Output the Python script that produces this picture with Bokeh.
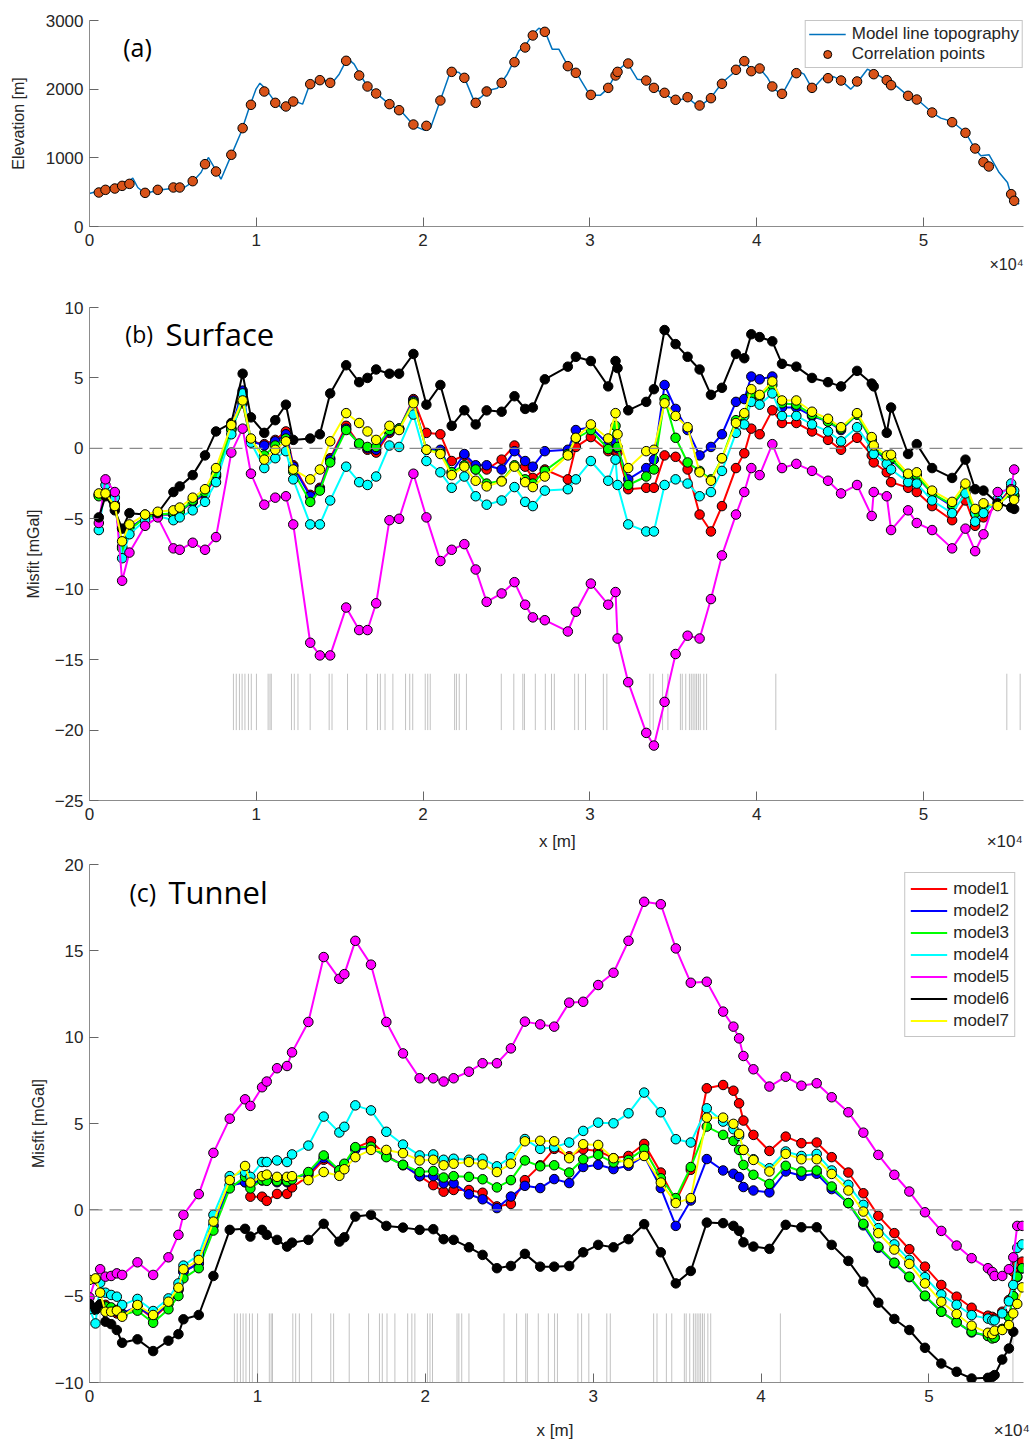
import numpy as np
from bokeh.plotting import figure
from bokeh.layouts import column
from bokeh.models import FixedTicker, Label, Legend, LegendItem, Span, Range1d, Title
from bokeh.embed import file_html
from bokeh.resources import INLINE

nan = float("nan")

# ---------------- panel (a): topography ----------------
TOPO_X = [0, 700, 2395, 2595, 2894, 3333, 4092, 5030, 5689, 6188, 6687, 7126, 7485, 7884, 8483, 9082, 9581,
          9980, 10220, 10579, 11078, 11577, 11876, 12275, 12774, 13174, 13872, 14571, 14970, 15469, 15868,
          16267, 16667, 17265, 17964, 18663, 19461, 20060, 20459, 21058, 21657, 22156, 22515, 23054, 23453,
          23952, 24451, 25050, 25749, 26120, 26580, 26940, 27300, 27740, 28140, 28680, 29240, 30000, 30640,
          31100, 31640, 32240, 32840, 33340, 33840, 34640, 35240, 35840, 36540, 37240, 37940, 38640, 39240,
          39640, 40140, 40640, 41040, 41540, 42140, 42440, 42840, 43340, 43940, 44640, 45040, 45640, 46040,
          46640, 47040, 47840, 48440, 49080, 49840, 50520, 51040, 51720, 52520, 53100, 53440, 53940, 54540,
          55040, 55240, 55440, 55740]
TOPO_Z = [480, 529, 665, 704, 568, 480, 529, 558, 568, 650, 786, 1005, 859, 689, 1029, 1369, 1733,
          2000, 2087, 2000, 1830, 1709, 1733, 1830, 1782, 2049, 2146, 2097, 2218, 2451, 2364,
          2194, 2039, 1927, 1782, 1684, 1466, 1403, 1442, 1854, 2267, 2243, 2146, 1830, 1879,
          1985, 2014, 2218, 2558, 2631, 2801, 2888, 2849, 2583, 2583, 2340, 2218, 1913, 1913,
          2015, 2267, 2388, 2146, 2131, 2015, 1903, 1830, 1879, 1743, 1869, 2097, 2243, 2422,
          2291, 2315, 2170, 2000, 1927, 2194, 2267, 2218, 2000, 2160, 2180, 2131, 2000, 2097,
          2291, 2243, 2121, 2034, 1903, 1806, 1660, 1578, 1529, 1369, 1126, 1029, 1044, 786,
          641, 471, 374, 325]

X_CORR = [559, 958, 1517, 1956, 2395, 3333, 4092, 5030, 5409, 6188,
          6926, 7585, 8503, 9182, 9681, 10479, 11138, 11776, 12216, 13234,
          13812, 14431, 15389, 16168, 16667, 17186, 17984, 18563, 19421, 20200,
          21038, 21717, 22475, 23154, 23812, 24711, 25480, 26120, 26580, 27300,
          28680, 29160, 30060, 31100, 31540, 31660, 32300, 33380, 33840, 34480,
          35140, 35860, 36580, 37260, 37920, 38760, 39260, 39680, 40180, 40940,
          41520, 42380, 43320, 44280, 45060, 46020, 47020, 47800, 48060, 49080,
          49600, 50520, 51720, 52520, 53100, 53600, 53920, 55260, 55440]
Z_CORR = [495, 534, 553, 592, 621, 490, 534, 568, 568, 660,
          908, 801, 1044, 1432, 1772, 1966, 1801, 1748, 1820, 2073,
          2131, 2092, 2413, 2199, 2039, 1937, 1782, 1694, 1485, 1466,
          1835, 2252, 2165, 1801, 1966, 2092, 2393, 2607, 2782, 2835,
          2335, 2238, 1917, 2019, 2199, 2252, 2374, 2126, 2019, 1947,
          1845, 1883, 1762, 1869, 2078, 2282, 2408, 2262, 2301, 2039,
          1932, 2233, 2019, 2160, 2126, 2112, 2218, 2131, 2058, 1903,
          1849, 1660, 1519, 1364, 1136, 937, 874, 471, 374]

# ---------------- panel (b): surface misfit ----------------
X_SURF = [559, 958, 1517, 1956, 2395, 3333, 4092, 5030, 5409, 6188,
          6926, 7585, 8503, 9182, 9681, 10479, 11138, 11776, 12216, 13234,
          13812, 14431, 15389, 16168, 16667, 17186, 17984, 18563, 19421, 20200,
          21038, 21717, 22475, 23154, 23812, 24711, 25480, 26120, 26580, 27300,
          28680, 29160, 30060, 31100, 31540, 31660, 32300, 33380, 33840, 34480,
          35140, 35860, 36580, 37260, 37920, 38760, 39260, 39680, 40180, 40940,
          41520, 42380, 43320, 44280, 45060, 46020, 46900, 47020, 47800, 48060,
          49080, 49600, 50520, 51720, 52520, 53100, 53600, 54450, 55260, 55440]

S_MODEL1 = [-3.3, -3.2, -4.0, -7.0, -5.7, -4.9, -4.7, -4.7, -4.5, -3.8,
            -3.3, -2.0, 1.4, 3.2, 0.5, 0.3, 0.6, 1.2, -1.2, -3.3,
            -2.8, -0.7, 1.6, 0.3, -0.1, -0.3, 1.1, 1.4, 3.5, 1.1,
            1.0, -0.9, -0.5, -1.5, -1.5, -0.8, 0.2, -1.3, -2.1, -1.5,
            -2.2, 0.1, 0.8, -0.2, -0.2, -0.3, -2.9, -2.8, -2.8, -0.5,
            -0.6, -1.5, -4.7, -5.9, -4.1, -1.4, -0.35, 1.4, 1.0, 2.7,
            1.8, 1.8, 1.2, 0.6, -0.1, 0.75, -0.5, -1.0, -1.7, -2.4,
            -2.8, -3.1, -4.1, -5.1, -3.7, -5.5, -4.9, -4.0, -2.8, -3.4]
S_MODEL2 = [-3.3, -3.2, -4.0, -7.0, -5.7, -4.9, -4.7, -4.7, -4.5, -3.8,
            -3.2, -1.9, 1.4, 4.1, 0.5, 0.2, 0.5, 1.0, -1.3, -3.4,
            -2.9, -0.8, 1.4, 0.3, 0.0, -0.1, 1.2, 1.4, 3.4, -0.1,
            -0.1, -1.7, -0.4, -1.2, -1.2, -1.5, -0.2, -0.9, -1.3, -0.2,
            -0.1, 1.3, 1.5, 0.3, 0.5, 0.0, -2.2, -1.4, -0.8, 4.5,
            2.8, 1.3, -0.5, 0.1, 1.0, 3.3, 3.5, 5.1, 4.9, 5.1,
            2.9, 2.9, 2.3, 1.9, 1.3, 2.4, 0.5, -0.1, -0.8, -0.8,
            -2.0, -2.0, -3.2, -4.1, -2.8, -4.6, -4.2, -3.9, -3.0, -3.4]
S_MODEL3 = [-3.4, -3.3, -4.1, -7.1, -5.8, -4.9, -4.7, -4.6, -4.5, -3.7,
            -3.1, -1.8, 1.3, 3.3, 0.5, -0.5, 0.2, 0.7, -1.65, -3.8,
            -3.0, -1.0, 1.3, 0.35, 0.1, 0.1, 1.3, 1.4, 3.3, -0.1,
            -0.3, -1.7, -1.2, -1.5, -2.5, -2.3, -1.2, -2.2, -2.5, -1.6,
            -0.4, 0.7, 1.3, -0.05, 1.6, 0.1, -2.6, -2.0, -1.5, 3.5,
            0.75, -1.0, -1.6, -2.2, -0.7, 2.0, 2.3, 3.8, 3.7, 4.5,
            3.2, 3.1, 2.4, 1.9, 1.4, 2.4, 0.6, 0.0, -0.7, -0.7,
            -2.0, -1.9, -3.2, -4.0, -2.8, -4.6, -4.3, -4.0, -3.2, -3.3]
S_MODEL4 = [-5.8, -2.6, -3.5, -7.8, -6.1, -5.1, -4.8, -5.1, -4.9, -4.4,
            -3.8, -2.4, 1.0, 3.9, 0.4, -1.4, -0.7, -0.2, -2.2, -5.4,
            -5.4, -3.7, -1.3, -2.4, -2.6, -2.0, 0.2, 0.1, 2.4, -0.9,
            -1.7, -2.8, -2.0, -3.4, -4.0, -3.7, -2.75, -3.8, -4.1, -3.0,
            -2.9, -2.2, -0.9, -2.3, -0.8, -2.6, -5.4, -5.9, -5.9, -2.6,
            -2.2, -2.5, -3.4, -3.1, -1.6, 1.1, 1.7, 3.3, 3.1, 3.9,
            2.3, 2.3, 1.7, 1.2, 0.5, 1.5, 0.0, -0.4, -1.1, -1.5,
            -2.4, -2.5, -3.7, -4.6, -3.2, -5.2, -4.6, -3.6, -2.5, -3.0]
S_MODEL5 = [-5.3, -2.2, -3.1, -9.4, -7.4, -5.5, -4.9, -7.1, -7.2, -6.7,
            -7.2, -6.3, -0.3, 1.4, -1.8, -4.0, -3.5, -3.4, -5.4, -13.8,
            -14.7, -14.7, -11.3, -12.9, -12.9, -11.0, -5.1, -5.0, -1.8, -4.9,
            -8.0, -7.2, -6.8, -8.6, -10.9, -10.3, -9.5, -11.1, -12.0, -12.2,
            -13.0, -11.6, -9.6, -11.1, -10.2, -13.5, -16.6, -20.2, -21.1, -18.0,
            -14.6, -13.3, -13.5, -10.7, -7.6, -4.7, -3.1, -1.4, -1.9, 0.3,
            -1.4, -1.1, -1.6, -2.3, -3.2, -2.6, -4.8, -3.1, -3.4, -5.8,
            -4.4, -5.3, -5.8, -7.1, -5.7, -7.3, -6.1, -3.1, -2.9, -1.5]
S_MODEL6 = [-4.9, -3.4, -4.4, -5.7, -4.6, -4.7, -4.6, -3.1, -2.7, -1.9,
            -0.5, 1.2, 1.8, 5.3, 2.2, 1.1, 2.0, 3.1, 0.6, 0.7,
            1.0, 3.9, 5.9, 4.7, 5.0, 5.6, 5.3, 5.3, 6.7, 3.1,
            4.5, 1.6, 2.7, 1.7, 2.7, 2.6, 3.7, 2.8, 2.9, 4.9,
            5.8, 6.5, 6.2, 4.4, 6.2, 5.7, 2.7, 3.3, 4.2, 8.4,
            7.4, 6.5, 5.6, 3.8, 4.3, 6.7, 6.4, 8.1, 7.9, 7.6,
            6.0, 5.8, 5.0, 4.7, 4.4, 5.5, 4.6, 4.4, 1.1, 2.9,
            -0.4, 0.3, -1.4, -2.1, -0.8, -2.9, -3.0, -3.9, -4.2, -4.3]
S_MODEL7 = [-3.2, -3.2, -4.1, -6.6, -5.4, -4.7, -4.5, -4.4, -4.2, -3.5,
            -2.9, -1.4, 1.65, 3.4, 0.7, -0.8, -0.1, 0.5, -1.5, -2.2,
            -1.5, 0.5, 2.5, 1.8, 1.2, 0.6, 1.6, 1.3, 3.2, -0.1,
            -0.4, -1.9, -1.3, -2.3, -2.7, -2.35, -1.3, -2.4, -2.75, -2.0,
            -0.5, 0.75, 1.7, 0.7, 2.5, 1.0, -1.4, -0.2, -0.1, 3.2,
            2.3, 1.5, -1.7, -2.3, -0.7, 1.8, 2.5, 4.2, 3.8, 4.75,
            3.4, 3.4, 2.6, 2.1, 1.5, 2.5, 0.8, 0.2, -0.5, -0.45,
            -1.8, -1.7, -3.0, -3.8, -2.5, -4.3, -3.9, -4.1, -3.0, -3.65]

# ---------------- panel (c): tunnel misfit ----------------
X_TUN = [0, 357, 635, 952, 1290, 1627, 1944, 2857, 3790, 4702,
         5298, 5595, 6508, 7381, 8353, 9266, 9583, 10278, 10556, 11171,
         11766, 12063, 13036, 13948, 14881, 15179, 15833, 16766, 17679, 18671,
         19663, 20476, 21091, 21687, 22599, 23413, 24266, 25099, 25933, 26845,
         27679, 28571, 29405, 30298, 31210, 32103, 33036, 34028, 34921, 35813,
         36766, 37738, 38353, 38690, 38948, 39544, 40496, 41468, 42401, 43313,
         44206, 45198, 46091, 46984, 47937, 48829, 49762, 50734, 51647, 52540,
         53512, 53770, 53909, 54365, 54762, 55020, 55258, 55556]

T_MODEL1 = [-5.5, -5.7, -5.5, -5.5, -5.7, -6.0, -6.09, -5.6, -6.29, -5.45,
            -4.64, -3.58, -3.09, -0.93, 1.43, 1.6, 0.76, 0.76, 0.52, 0.92,
            0.92, 1.3, 1.95, 2.9, 2.25, 2.58, 3.59, 3.97, 3.15, 2.58,
            1.95, 1.43, 1.05, 1.15, 1.15, 0.99, 0.2, 0.34, 1.72, 2.58,
            3.53, 3.1, 3.51, 3.41, 2.99, 3.12, 3.82, 2.16, 0.5, 2.32,
            7.04, 7.23, 6.9, 6.17, 5.17, 4.34, 3.41, 4.24, 3.86, 3.9,
            3.05, 2.16, 0.96, -0.35, -1.35, -2.28, -3.29, -4.35, -5.03, -5.67,
            -6.13, -6.2, -6.3, -5.9, -5.22, -3.58, -3.09, -3.0]
T_MODEL2 = [-5.5, -5.7, -5.5, -5.6, -5.7, -5.9, -6.0, -5.6, -6.2, -5.4,
            -4.6, -3.6, -3.1, -0.9, 1.4, 1.6, 1.5, 1.7, 1.7, 1.6,
            1.6, 1.8, 2.1, 3.0, 2.3, 2.6, 3.5, 3.6, 3.1, 2.6,
            1.95, 1.95, 1.53, 1.53, 0.9, 0.61, 0.1, 0.77, 1.39, 1.26,
            1.78, 1.55, 2.48, 2.61, 2.36, 2.55, 3.13, 1.26, -0.93, 0.54,
            2.94, 2.28, 2.09, 1.9, 1.32, 1.12, 1.01, 2.22, 1.97, 2.09,
            1.2, 0.39, -0.9, -2.2, -3.1, -3.9, -5.0, -5.9, -6.5, -7.1,
            -7.3, -7.4, -7.4, -6.9, -6.2, -5.0, -3.9, -3.4]
T_MODEL3 = [-5.6, -5.8, -5.6, -5.6, -5.65, -5.8, -6.1, -5.84, -6.54, -5.76,
            -4.99, -3.97, -3.38, -1.2, 1.24, 1.91, 1.24, 1.72, 1.68, 1.66,
            1.66, 1.76, 2.19, 3.15, 2.29, 2.67, 3.63, 3.66, 3.05, 2.61,
            2.19, 2.25, 1.87, 1.95, 1.91, 1.77, 1.3, 1.72, 2.86, 2.52,
            2.58, 2.16, 2.93, 3.18, 2.74, 2.89, 3.53, 1.83, 0.68, 2.48,
            4.82, 4.34, 3.99, 3.47, 2.6, 2.03, 1.5, 2.55, 2.22, 2.28,
            1.35, 0.39, -0.81, -2.13, -3.06, -3.87, -4.97, -5.9, -6.52, -7.06,
            -7.31, -7.45, -7.4, -6.9, -6.2, -5.0, -3.87, -3.38]
T_MODEL4 = [-5.76, -6.58, -4.22, -4.8, -4.93, -5.03, -5.51, -5.16, -5.86, -5.13,
            -4.26, -3.23, -2.61, -0.29, 1.95, 2.19, 1.91, 2.77, 2.77, 2.86,
            2.77, 3.21, 3.72, 5.4, 4.48, 4.81, 6.05, 5.76, 4.52, 3.78,
            3.15, 3.21, 2.9, 2.96, 2.9, 2.96, 2.52, 3.05, 4.1, 3.53,
            3.63, 3.9, 4.57, 5.05, 5.01, 5.59, 6.79, 5.65, 4.09, 3.9,
            5.88, 5.11, 4.67, 4.28, 3.47, 2.93, 2.41, 3.38, 3.12, 3.24,
            2.28, 1.45, 0.29, -1.06, -2.0, -2.9, -3.9, -4.9, -5.5, -6.1,
            -6.3, -6.4, -6.4, -6.0, -5.3, -4.35, -2.2, -2.0]
T_MODEL5 = [-5.07, -4.0, -3.44, -3.87, -3.83, -3.68, -3.77, -3.04, -3.77, -2.75,
            -1.45, -0.29, 0.91, 3.3, 5.28, 6.4, 6.02, 7.1, 7.43, 8.2,
            8.33, 9.12, 10.88, 14.64, 13.38, 13.65, 15.58, 14.2, 10.88, 9.06,
            7.62, 7.62, 7.43, 7.62, 8.0, 8.49, 8.49, 9.35, 10.9, 10.74,
            10.61, 12.0, 12.05, 13.02, 13.73, 15.58, 17.84, 17.7, 15.14, 13.15,
            13.21, 11.48, 10.61, 9.93, 8.91, 8.14, 7.14, 7.71, 7.19, 7.33,
            6.52, 5.65, 4.47, 3.18, 2.03, 1.06, -0.14, -1.22, -2.07, -2.8,
            -3.38, -3.6, -3.83, -3.83, -3.44, -2.75, -0.93, -0.93]
T_MODEL6 = [-5.45, -5.76, -5.47, -6.48, -6.62, -6.96, -7.7, -7.5, -8.18, -7.58,
            -7.2, -6.34, -6.09, -3.83, -1.16, -1.1, -1.55, -1.16, -1.45, -1.74,
            -2.13, -1.9, -1.74, -0.81, -1.84, -1.59, -0.39, -0.29, -0.93, -1.03,
            -1.16, -1.12, -1.7, -1.74, -2.17, -2.61, -3.38, -3.25, -2.55, -3.29,
            -3.29, -3.25, -2.46, -2.03, -2.17, -1.7, -0.83, -2.46, -4.26, -3.54,
            -0.74, -0.77, -0.93, -1.22, -1.88, -2.13, -2.26, -0.87, -1.01, -1.01,
            -2.03, -2.96, -4.16, -5.38, -6.32, -6.96, -7.99, -8.9, -9.38, -9.77,
            -9.73, -9.67, -9.57, -8.67, -8.03, -7.06, nan, nan]
T_MODEL7 = [-4.06, -3.97, -4.8, -5.9, -5.9, -5.84, -6.19, -5.51, -6.09, -5.32,
            -4.51, -3.44, -2.9, -0.68, 1.72, 2.54, 1.58, 1.95, 2.04, 1.91,
            1.91, 1.95, 1.72, 2.19, 1.97, 2.35, 3.05, 3.47, 3.47, 3.28,
            2.86, 2.9, 2.58, 2.67, 2.77, 2.63, 2.19, 2.67, 3.97, 4.0,
            3.97, 2.99, 3.8, 3.76, 2.99, 2.7, 3.12, 1.58, 0.39, 0.68,
            5.34, 5.34, 4.98, 4.4, 3.47, 2.89, 2.22, 3.24, 2.93, 2.93,
            2.08, 1.12, -0.1, -1.35, -2.3, -3.13, -4.26, -5.32, -6.03, -6.71,
            -7.12, -7.2, -7.0, -6.96, -6.67, -6.0, -5.45, -4.49]

# tunnel station positions (grey tick marks)
STATIONS = [8630, 8800, 8990, 9150, 9320, 9530, 9700, 10010, 10710, 10820, 10900,
            12110, 12280, 12500, 13230, 14370, 14540, 15470, 16620, 17270, 17440, 17720,
            18190, 18950, 19200, 19380, 20130, 20280, 20430, 21890, 22000, 22170, 22600,
            24690, 25440, 25980, 26080, 26730, 27330, 27700, 27870, 29090, 29310, 29740,
            30810, 31020, 33600, 33800, 34360, 34680, 35430, 35540, 35750, 35970, 36080,
            36190, 36300, 36400, 36510, 36620, 36830, 37000, 41150, 55000, 55800]
STATIONS_TUNNEL_EXTRA = [630]

MODEL_NAMES = ["model1", "model2", "model3", "model4", "model5", "model6", "model7"]
MODEL_COLORS = ["#ff0000", "#0000ff", "#00ff00", "#00ffff", "#ff00ff", "#000000", "#ffff00"]
SURF = [S_MODEL1, S_MODEL2, S_MODEL3, S_MODEL4, S_MODEL5, S_MODEL6, S_MODEL7]
TUN = [T_MODEL1, T_MODEL2, T_MODEL3, T_MODEL4, T_MODEL5, T_MODEL6, T_MODEL7]

X_TICKS = [0, 10000, 20000, 30000, 40000, 50000]
X_TICK_LABELS = ["0", "1", "2", "3", "4", "5"]

FONT = "Liberation Sans"
AX_COLOR = "#8c8c8c"
TXT = "#262626"
NBSP = "\u00a0"
EXP = "×10⁴"


def make_fig(h, top, bottom, xmax, yr, yticks, ylabel, xlabel, ylab_standoff, xlab_standoff):
    p = figure(width=1031, height=h, output_backend="svg", toolbar_location=None,
               x_range=Range1d(0, xmax), y_range=Range1d(*yr),
               min_border_left=89, min_border_right=8, min_border_top=top, min_border_bottom=bottom)
    p.outline_line_color = None
    p.xgrid.visible = False
    p.ygrid.visible = False
    p.xaxis.ticker = FixedTicker(ticks=X_TICKS)
    p.xaxis.major_label_overrides = {t: l for t, l in zip(X_TICKS, X_TICK_LABELS)}
    p.yaxis.ticker = FixedTicker(ticks=yticks)
    for ax in (p.xaxis[0], p.yaxis[0]):
        ax.axis_line_color = AX_COLOR
        ax.axis_line_width = 1
        ax.major_tick_line_color = "#666666"
        ax.major_tick_in = 9
        ax.major_tick_out = 0
        ax.minor_tick_line_color = None
        ax.major_label_text_font = FONT
        ax.major_label_text_font_size = "17px"
        ax.major_label_text_color = TXT
        ax.axis_label_text_font = FONT
        ax.axis_label_text_font_style = "normal"
        ax.axis_label_text_color = TXT
    p.yaxis.axis_label_text_font_size = "16px"
    p.xaxis.axis_label_text_font_size = "17px"
    p.xaxis.major_label_standoff = 7
    p.yaxis.major_label_standoff = 6
    p.yaxis.axis_label = ylabel
    p.yaxis.axis_label_standoff = ylab_standoff
    if xlabel:
        p.xaxis.axis_label = xlabel
        p.xaxis.axis_label_standoff = xlab_standoff
    return p


def style_legend(lg, gh, sp, pad):
    lg.label_text_font = FONT
    lg.label_text_font_size = "17px"
    lg.label_text_color = TXT
    lg.border_line_color = AX_COLOR
    lg.border_line_width = 1
    lg.background_fill_color = "white"
    lg.background_fill_alpha = 1
    lg.glyph_width = 37
    lg.glyph_height = gh
    lg.label_height = gh
    lg.spacing = sp
    lg.padding = pad
    lg.label_standoff = 6


# ---------- (a) ----------
fa = make_fig(282, 20, 56, 56000, (0, 3000), [0, 1000, 2000, 3000], "Elevation [m]", None, 16, 0)
topo = fa.line(TOPO_X, TOPO_Z, line_color="#0072BD", line_width=1.5)
pts = fa.scatter(X_CORR, Z_CORR, size=9.5, fill_color="#D95319", line_color="black", line_width=1)
lga = Legend(items=[LegendItem(label="Model line topography", renderers=[topo]),
                    LegendItem(label="Correlation points", renderers=[pts])],
             location="top_right", margin=0)
style_legend(lga, 20, 0, 3)
fa.add_layout(lga)
fa.add_layout(Label(x=2020, y=2621, text="(a)", text_font="Open Sans", text_font_size="25px",
                    text_baseline="middle", text_color="black"))
fa.add_layout(Title(text=EXP, align="right", text_font=FONT, text_font_size="16px",
                    text_font_style="normal", text_color=TXT, standoff=10), "below")

# ---------- (b) ----------
XLABEL_B = NBSP * 95 + "x [m]" + NBSP * 87 + EXP
fb = make_fig(571, 25, 52, 56000, (-25, 10), [-25, -20, -15, -10, -5, 0, 5, 10], "Misfit [mGal]",
              XLABEL_B, 10, 9)
fb.segment(x0=STATIONS, y0=-20, x1=STATIONS, y1=-16, line_color="#9a9a9a", line_alpha=0.6, line_width=1)
fb.add_layout(Span(location=0, dimension="width", line_color="#8a8a8a", line_dash="13 7", line_width=1.3))
for name, col, ys in zip(MODEL_NAMES, MODEL_COLORS, SURF):
    fb.line(X_SURF, ys, line_color=col, line_width=2)
    fb.scatter(X_SURF, ys, size=9.5, fill_color=col, line_color="black", line_width=1)
fb.add_layout(Label(x=2150, y=8.14, text="(b)", text_font="Open Sans", text_font_size="23px",
                    text_baseline="middle", text_color="black"))
fb.add_layout(Label(x=4560, y=8.14, text="Surface", text_font="Open Sans", text_font_size="31px",
                    text_baseline="middle", text_color="black"))

# ---------- (c) ----------
XLABEL_C = NBSP * 96 + "x [m]" + NBSP * 89 + EXP
fc = make_fig(593, 11, 64, 55630, (-10, 20), [-10, -5, 0, 5, 10, 15, 20], "Misfit [mGal]",
              XLABEL_C, 5, 16)
fc.segment(x0=STATIONS + STATIONS_TUNNEL_EXTRA, y0=-10, x1=STATIONS + STATIONS_TUNNEL_EXTRA, y1=-6,
           line_color="#9a9a9a", line_alpha=0.6, line_width=1)
fc.add_layout(Span(location=0, dimension="width", line_color="#8a8a8a", line_dash="13 7", line_width=1.3))
items = []
for name, col, ys in zip(MODEL_NAMES, MODEL_COLORS, TUN):
    r = fc.line(X_TUN, ys, line_color=col, line_width=2)
    fc.scatter(X_TUN, ys, size=9.5, fill_color=col, line_color="black", line_width=1)
    items.append(LegendItem(label=name, renderers=[r]))
lgc = Legend(items=items, location="top_right", margin=8)
style_legend(lgc, 21, 1, 5)
fc.add_layout(lgc)
fc.add_layout(Label(x=2380, y=18.43, text="(c)", text_font="Open Sans", text_font_size="25px",
                    text_baseline="middle", text_color="black"))
fc.add_layout(Label(x=4700, y=18.43, text="Tunnel", text_font="Open Sans", text_font_size="31px",
                    text_baseline="middle", text_color="black"))

layout = column(fa, fb, fc, spacing=0)
open("out.html", "w").write(file_html(layout, INLINE))
